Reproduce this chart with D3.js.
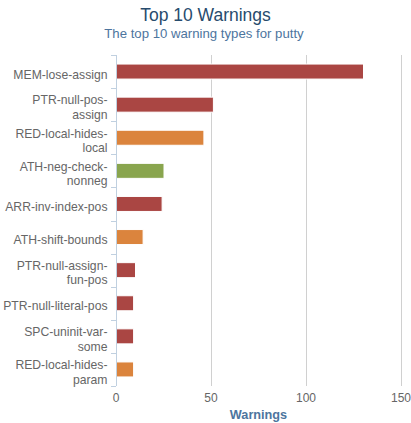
<!DOCTYPE html>
<html><head><meta charset="utf-8">
<script src="https://cdn.jsdelivr.net/npm/d3@7"></script>
<style>body{margin:0;background:#fff;}svg{display:block;font-family:"Liberation Sans",Arial,sans-serif;}</style>
</head><body>
<svg id="c" width="411" height="423"></svg>
<script>
const categories = [
  ["MEM-lose-assign"],
  ["PTR-null-pos-", "assign"],
  ["RED-local-hides-", "local"],
  ["ATH-neg-check-", "nonneg"],
  ["ARR-inv-index-pos"],
  ["ATH-shift-bounds"],
  ["PTR-null-assign-", "fun-pos"],
  ["PTR-null-literal-pos"],
  ["SPC-uninit-var-", "some"],
  ["RED-local-hides-", "param"]
];
const values = [130, 51, 46, 25, 24, 14, 10, 9, 9, 9];
const colors = ["#AA4643", "#AA4643", "#DB843D", "#89A54E", "#AA4643", "#DB843D", "#AA4643", "#AA4643", "#AA4643", "#DB843D"];
const xTicks = [0, 50, 100, 150];
const title = "Top 10 Warnings";
const subtitle = "The top 10 warning types for putty";
const xTitle = "Warnings";

(function () {
const svg = d3.select("#c");
const pL = 116, pR = 401, pT = 55, pB = 386;
const x = d3.scaleLinear().domain([0, 150]).range([pL, pR]);
const y = d3.scaleBand().domain(d3.range(categories.length)).range([pT, pB]).paddingInner(0).paddingOuter(0);

svg.append("text").attr("x", 205.5).attr("y", 21).attr("text-anchor", "middle")
  .attr("fill", "#274B6D").style("font-size", "17.5px").text(title);
svg.append("text").attr("x", 204).attr("y", 38).attr("text-anchor", "middle")
  .attr("fill", "#4D759E").style("font-size", "13.2px").text(subtitle);

// gridlines
svg.append("g").selectAll("line").data(xTicks).join("line")
  .attr("x1", d => x(d) + 0.5).attr("x2", d => x(d) + 0.5)
  .attr("y1", pT).attr("y2", pB)
  .attr("stroke", "#D0D0D0").attr("stroke-width", 1);

// bars
const bh = 15;
svg.append("g").selectAll("rect").data(values).join("rect")
  .attr("x", x(0) + 0.5)
  .attr("y", (d, i) => y(i) + y.bandwidth() / 2 - bh / 2)
  .attr("width", d => x(d) - x(0))
  .attr("height", bh)
  .attr("fill", (d, i) => colors[i])
  .attr("stroke", "#FFFFFF").attr("stroke-width", 1);

// y axis line + ticks
svg.append("line").attr("x1", pL + 0.5).attr("x2", pL + 0.5).attr("y1", pT).attr("y2", pB)
  .attr("stroke", "#C0D0E0").attr("stroke-width", 1);
const tickYs = d3.range(categories.length + 1).map(i => i < categories.length ? y(i) : pB);
svg.append("g").selectAll("line").data(tickYs).join("line")
  .attr("x1", pL - 5).attr("x2", pL).attr("y1", d => Math.round(d) + 0.5).attr("y2", d => Math.round(d) + 0.5)
  .attr("stroke", "#C0D0E0").attr("stroke-width", 1);

// category labels
const lh = 14.5;
const lab = svg.append("g").selectAll("text").data(categories).join("text")
  .attr("text-anchor", "end").attr("fill", "#666666").style("font-size", "12.2px")
  .attr("y", (d, i) => y(i) + y.bandwidth() / 2 + 7 - (d.length - 1) * lh / 2);
lab.selectAll("tspan").data(d => d).join("tspan")
  .attr("x", 107.5).attr("dy", (d, j) => j === 0 ? 0 : lh).text(d => d);

// x tick labels
svg.append("g").selectAll("text").data(xTicks).join("text")
  .attr("x", d => x(d)).attr("y", 401.5).attr("text-anchor", "middle")
  .attr("fill", "#666666").style("font-size", "12px").text(d => d);

svg.append("text").attr("x", (pL + pR) / 2).attr("y", 418.5).attr("text-anchor", "middle")
  .attr("fill", "#4D759E").style("font-size", "12.7px").style("font-weight", "bold").text(xTitle);
})();
</script>
</body></html>
